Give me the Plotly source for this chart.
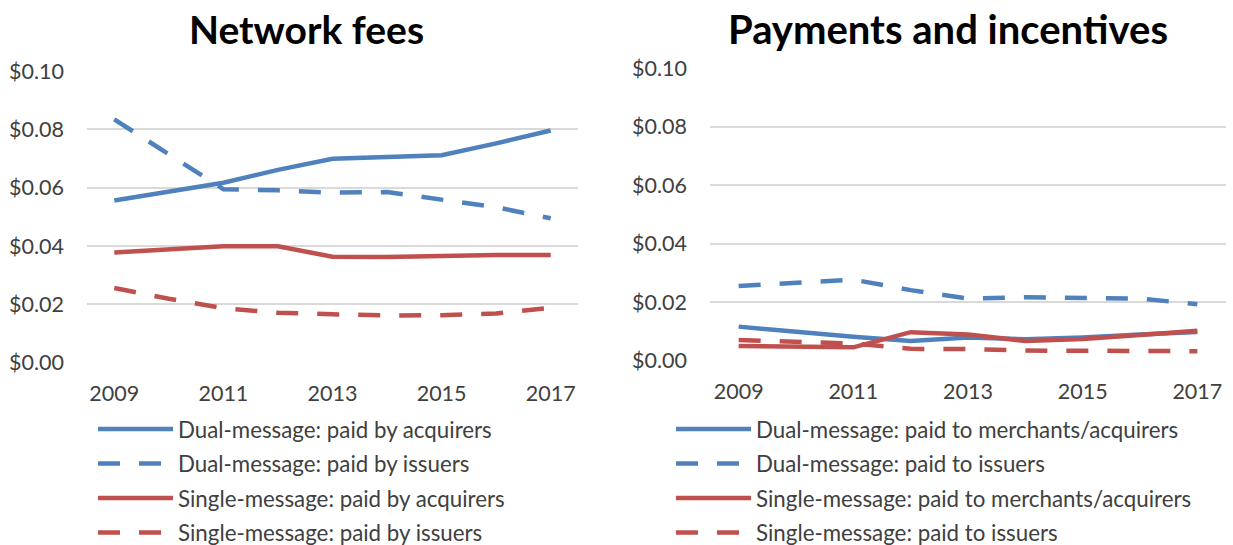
import plotly.graph_objects as go

years = ["2009", "2010", "2011", "2012", "2013", "2014", "2015", "2016", "2017"]
year_ticks = ["2009", "2011", "2013", "2015", "2017"]
y_ticks = [0.0, 0.02, 0.04, 0.06, 0.08, 0.10]
y_tick_labels = ["$0.00", "$0.02", "$0.04", "$0.06", "$0.08", "$0.10"]

# Network fees
nf_dual_acq = [0.0556, 0.0587, 0.0617, 0.0661, 0.0699, 0.0705, 0.0711, 0.0752, 0.0796]
nf_dual_iss = [0.0834, 0.0714, 0.0595, 0.0591, 0.0583, 0.0585, 0.0560, 0.0533, 0.0495]
nf_single_acq = [0.0378, 0.0389, 0.0399, 0.0399, 0.0363, 0.0362, 0.0366, 0.0369, 0.0369]
nf_single_iss = [0.0256, 0.0219, 0.0187, 0.0171, 0.0166, 0.0162, 0.0163, 0.0169, 0.0188]

# Payments and incentives
pi_dual_merch = [0.0116, 0.0098, 0.0081, 0.0067, 0.0079, 0.0073, 0.0079, 0.0089, 0.0098]
pi_dual_iss = [0.0255, 0.0266, 0.0277, 0.0241, 0.0212, 0.0217, 0.0213, 0.0212, 0.0193]
pi_single_merch = [0.0050, 0.0049, 0.0045, 0.0097, 0.0089, 0.0067, 0.0074, 0.0087, 0.0102]
pi_single_iss = [0.0070, 0.0063, 0.0058, 0.0040, 0.0039, 0.0034, 0.0033, 0.0032, 0.0032]

left_names = ["Dual-message: paid by acquirers", "Dual-message: paid by issuers",
              "Single-message: paid by acquirers", "Single-message: paid by issuers"]
right_names = ["Dual-message: paid to merchants/acquirers", "Dual-message: paid to issuers",
               "Single-message: paid to merchants/acquirers", "Single-message: paid to issuers"]

BLUE = "#4F81BD"
RED = "#C0504D"
DASH = "22px,19px"
FONT = "Lato"
W, H = 1233, 545

fig = go.Figure()

left_series = [nf_dual_acq, nf_dual_iss, nf_single_acq, nf_single_iss]
right_series = [pi_dual_merch, pi_dual_iss, pi_single_merch, pi_single_iss]
styles = [(BLUE, "solid"), (BLUE, DASH), (RED, "solid"), (RED, DASH)]

for i, (vals, name) in enumerate(zip(left_series, left_names)):
    c, d = styles[i]
    fig.add_trace(go.Scatter(x=years, y=vals, name=name, mode="lines",
                             line=dict(color=c, width=4.5, dash=d),
                             xaxis="x", yaxis="y", legend="legend",
                             legendgroup="L%d" % i))
for i, (vals, name) in enumerate(zip(right_series, right_names)):
    c, d = styles[i]
    fig.add_trace(go.Scatter(x=years, y=vals, name=name, mode="lines",
                             line=dict(color=c, width=4.5, dash=d),
                             xaxis="x2", yaxis="y2", legend="legend2",
                             legendgroup="R%d" % i))

def px_x(p):
    return p / W

def px_y(p):
    return (H - p) / H

axis_font = dict(family=FONT, size=21.5, color="#404040")
xcommon = dict(type="category", categoryorder="array", categoryarray=years,
               range=[-0.5, len(years) - 0.5], automargin=False,
               tickmode="array", tickvals=year_ticks, ticktext=year_ticks,
               showgrid=False, zeroline=False, showline=False, ticks="",
               tickfont=axis_font, ticklabelstandoff=16, fixedrange=True)
ycommon = dict(range=[0, 0.1], tickmode="array", tickvals=y_ticks, ticktext=y_tick_labels,
               automargin=False,
               showgrid=True, gridcolor="#D9D9D9", gridwidth=1.5, zeroline=False,
               showline=False, ticks="", tickfont=axis_font, ticklabelstandoff=22,
               fixedrange=True)

legend_common = dict(font=dict(family=FONT, size=22.3, color="#404040"),
                     bgcolor="rgba(0,0,0,0)", traceorder="grouped",
                     tracegroupgap=2.5, itemwidth=75, xanchor="left", yanchor="bottom",
                     orientation="v")

fig.update_layout(
    width=W, height=H,
    margin=dict(l=0, r=0, t=0, b=0, autoexpand=False),
    paper_bgcolor="white", plot_bgcolor="white",
    xaxis=dict(domain=[px_x(87), px_x(578)], anchor="y", **xcommon),
    yaxis=dict(domain=[px_y(362.7), px_y(71)], anchor="x", **ycommon),
    xaxis2=dict(domain=[px_x(710), px_x(1226)], anchor="y2", **xcommon),
    yaxis2=dict(domain=[px_y(360.5), px_y(68.5)], anchor="x2", **ycommon),
    legend=dict(x=px_x(93), y=px_y(554), **legend_common),
    legend2=dict(x=px_x(671), y=px_y(554), **legend_common),
    showlegend=True,
    annotations=[
        dict(text="<b>Network fees</b>", x=px_x(306), y=px_y(29), xref="paper", yref="paper",
             xanchor="center", yanchor="middle", showarrow=False,
             font=dict(family=FONT, size=39, color="#000000")),
        dict(text="<b>Payments and incentives</b>", x=px_x(948), y=px_y(29), xref="paper",
             yref="paper", xanchor="center", yanchor="middle", showarrow=False,
             font=dict(family=FONT, size=40, color="#000000")),
    ],
)

fig.write_html(
    "out.html",
    config={"displayModeBar": False},
    post_script="document.body.style.margin='0';document.body.style.overflow='hidden';",
)
